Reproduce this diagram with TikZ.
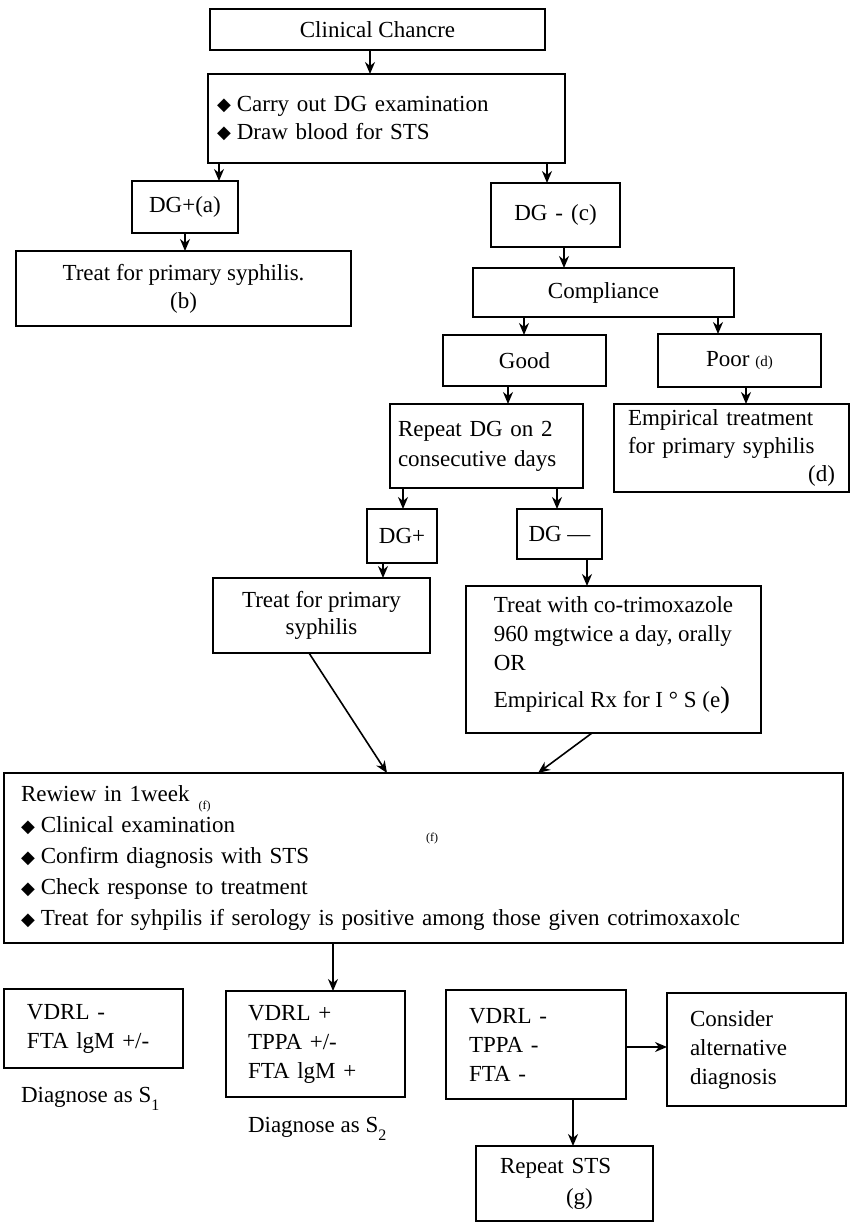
\documentclass[tikz,border=0pt]{standalone}
\usepackage{fontspec}
\setmainfont{Liberation Serif}
\newfontfamily\symfont{DejaVu Sans}
\usetikzlibrary{arrows.meta}
\newcommand{\dmd}{\raisebox{0.5pt}{\symfont\fontsize{18}{18}\selectfont ◆}\hspace{6pt}}
\begin{document}
\begin{tikzpicture}[x=1pt,y=-1pt,
  every node/.style={font=\fontsize{23}{29}\selectfont},
  box/.style={draw, line width=1.7pt, inner sep=0pt, outer sep=0pt},
  arr/.style={line width=1.6pt, -{Stealth[length=12pt,width=10pt]}},
  lbl/.style={inner sep=0pt, outer sep=0pt}]
\useasboundingbox (0,0) rectangle (852,1222);

% boxes
\node[box, minimum width=335pt, minimum height=41pt] (chancre) at (377.5,29.5) {Clinical Chancre};
\node[box, minimum width=357pt, minimum height=89pt, text width=339pt, align=left, font=\fontsize{23}{28}\selectfont] (exam) at (386.5,118.5) {\dmd Carry out DG examination\\ \dmd Draw blood for STS\\[8pt]};
\node[box, minimum width=106pt, minimum height=52pt] (dgpa) at (185,207) {DG+(a)};
\node[box, minimum width=129pt, minimum height=64pt] (dgmc) at (555.5,215) {DG\hspace{8pt}-\hspace{8pt}(c)};
\node[box, minimum width=335pt, minimum height=75pt, align=center, font=\fontsize{23}{28}\selectfont] (treatb) at (183.5,288.5) {Treat for primary syphilis.\\(b)};
\node[box, minimum width=261pt, minimum height=49pt] (compliance) at (603.5,292.5) {Compliance};
\node[box, minimum width=163pt, minimum height=51pt] (good) at (524.5,360.5) {Good};
\node[box, minimum width=163pt, minimum height=53pt] (poor) at (739.5,360.5) {Poor {\fontsize{15}{15}\selectfont (d)}};
\node[box, minimum width=193pt, minimum height=84pt, text width=177pt, align=left, font=\fontsize{23}{30}\selectfont] (repeat) at (486.5,446) {Repeat DG on 2\\consecutive days\\[4pt]};
\node[box, minimum width=235pt, minimum height=88pt, text width=207pt, align=left, font=\fontsize{23}{28}\selectfont] (empirical) at (731.5,448) {Empirical treatment\\for primary syphilis\\ \mbox{}\hfill(d)};
\node[box, minimum width=70pt, minimum height=54pt] (dgp2) at (402,536) {DG+};
\node[box, minimum width=85pt, minimum height=50pt] (dgm2) at (559.5,534) {DG —};
\node[box, minimum width=217pt, minimum height=75pt, align=center, font=\fontsize{23}{27}\selectfont] (treatp) at (321.5,615.5) {Treat for primary\\syphilis};
\node[box, minimum width=295pt, minimum height=147pt, align=left, font=\fontsize{23}{29}\selectfont] (cotrim) at (613.5,659.5) {Treat with co-trimoxazole\\960 mgtwice a day, orally\\OR\\[8pt]Empirical Rx for I ° S (e{\fontsize{30}{30}\selectfont)}\\[-14pt]\mbox{}};
\node[box, minimum width=839pt, minimum height=170pt, text width=805pt, align=left, font=\fontsize{23}{31}\selectfont] (review) at (423.5,858) {Rewiew in 1week\hspace{9pt}\raisebox{-8pt}{\fontsize{12}{12}\selectfont (f)}\\ \dmd Clinical examination\\ \dmd Confirm diagnosis with STS\\ \dmd Check response to treatment\\ \dmd Treat for syhpilis if serology is positive among those given cotrimoxaxolc};
\node[lbl, font=\fontsize{12}{12}\selectfont] (fnote) at (432,839) {(f)};

\node[box, minimum width=179pt, minimum height=79pt, text width=133pt, align=left] (vdrl1) at (93.5,1028.5) {VDRL -\\FTA lgM +/-};
\node[lbl, anchor=base west] (diag1) at (21,1102) {Diagnose as S\raisebox{-8pt}{\fontsize{16}{16}\selectfont 1}};
\node[box, minimum width=179pt, minimum height=106pt, text width=135pt, align=left] (vdrl2) at (315.5,1044) {VDRL +\\TPPA +/-\\FTA lgM +};
\node[lbl, anchor=base west] (diag2) at (248,1132) {Diagnose as S\raisebox{-8pt}{\fontsize{16}{16}\selectfont 2}};
\node[box, minimum width=180pt, minimum height=109pt, text width=134pt, align=left] (vdrl3) at (536,1044.5) {VDRL -\\TPPA -\\FTA -};
\node[box, minimum width=179pt, minimum height=113pt, text width=133pt, align=left] (consider) at (756.5,1049.5) {Consider\\alternative\\diagnosis};
\node[box, minimum width=177pt, minimum height=75pt, text width=129pt, align=left, font=\fontsize{23}{31}\selectfont] (repsts) at (564.5,1183.5) {Repeat STS\\\hspace*{66pt}(g)};

% x positions of connectors
\coordinate (k1) at (370,0);
\coordinate (k2) at (219,0);
\coordinate (k3) at (547,0);
\coordinate (k4) at (185,0);
\coordinate (k5) at (564,0);
\coordinate (k6) at (524,0);
\coordinate (k7) at (718,0);
\coordinate (k8) at (508,0);
\coordinate (k9) at (746,0);
\coordinate (k10) at (403,0);
\coordinate (k11) at (557,0);
\coordinate (k12) at (383,0);
\coordinate (k13) at (587,0);
\coordinate (k14a) at (309,0);
\coordinate (k14b) at (387,0);
\coordinate (k15a) at (592,0);
\coordinate (k15b) at (538,0);
\coordinate (k16) at (333,0);
\coordinate (k17) at (0,1047);
\coordinate (k18) at (573,0);

% connectors
\draw[arr] (chancre.south -| k1) -- (exam.north -| k1);
\draw[arr] (exam.south -| k2) -- (dgpa.north -| k2);
\draw[arr] (exam.south -| k3) -- (dgmc.north -| k3);
\draw[arr] (dgpa.south -| k4) -- (treatb.north -| k4);
\draw[arr] (dgmc.south -| k5) -- (compliance.north -| k5);
\draw[arr] (compliance.south -| k6) -- (good.north -| k6);
\draw[arr] (compliance.south -| k7) -- (poor.north -| k7);
\draw[arr] (good.south -| k8) -- (repeat.north -| k8);
\draw[arr] (poor.south -| k9) -- (empirical.north -| k9);
\draw[arr] (repeat.south -| k10) -- (dgp2.north -| k10);
\draw[arr] (repeat.south -| k11) -- (dgm2.north -| k11);
\draw[arr] (dgp2.south -| k12) -- (treatp.north -| k12);
\draw[arr] (dgm2.south -| k13) -- (cotrim.north -| k13);
\draw[arr] (treatp.south -| k14a) -- (review.north -| k14b);
\draw[arr] (cotrim.south -| k15a) -- (review.north -| k15b);
\draw[arr] (review.south -| k16) -- (vdrl2.north -| k16);
\draw[arr] (vdrl3.east |- k17) -- (consider.west |- k17);
\draw[arr] (vdrl3.south -| k18) -- (repsts.north -| k18);
\end{tikzpicture}
\end{document}
